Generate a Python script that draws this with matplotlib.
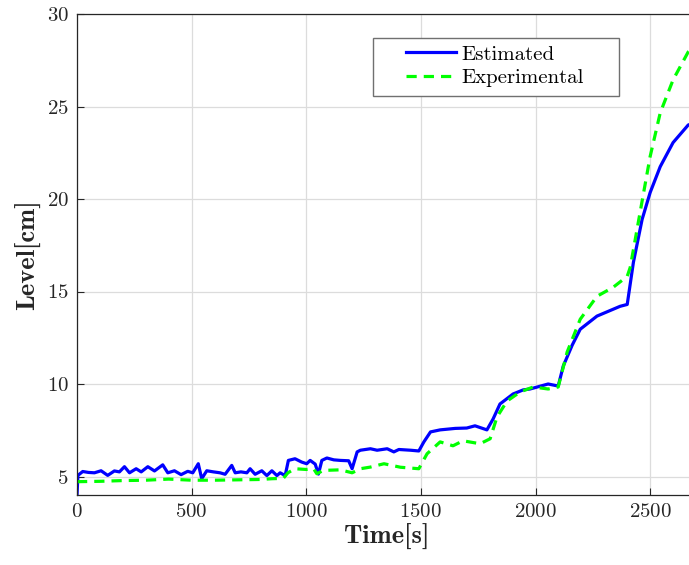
import numpy as np
from matplotlib import pyplot as plt
from matplotlib.patches import Rectangle

plt.rcParams['font.family'] = 'cmr10'
plt.rcParams['axes.formatter.use_mathtext'] = True

# estimated level (s, cm)
t_est = [0, 4, 25, 50, 76, 105, 134, 163, 185, 207, 229, 258, 280, 309, 338, 374,
         396, 425, 454, 483, 505, 529, 544, 566, 595, 624, 646, 675, 690, 715, 741,
         755, 777, 806, 828, 850, 872, 886, 908, 922, 951, 980, 1002, 1017, 1039,
         1053, 1068, 1090, 1120, 1149, 1185, 1200, 1222, 1236, 1280, 1309, 1353,
         1382, 1404, 1455, 1491, 1513, 1542, 1584, 1650, 1700, 1736, 1788, 1815,
         1845, 1902, 1946, 1976, 2055, 2099, 2121, 2160, 2195, 2268, 2369, 2400,
         2427, 2465, 2500, 2544, 2600, 2666, 2700]
lvl_est = [4.0, 5.06, 5.27, 5.22, 5.2, 5.31, 5.06, 5.3, 5.25, 5.53, 5.2, 5.42, 5.25,
           5.53, 5.3, 5.63, 5.2, 5.31, 5.1, 5.28, 5.2, 5.69, 4.88, 5.31, 5.25, 5.2,
           5.12, 5.6, 5.2, 5.25, 5.2, 5.42, 5.12, 5.31, 5.05, 5.31, 5.05, 5.2, 5.05,
           5.87, 5.96, 5.78, 5.69, 5.87, 5.67, 5.13, 5.87, 6.0, 5.9, 5.87, 5.85,
           5.42, 6.33, 6.42, 6.5, 6.42, 6.5, 6.33, 6.46, 6.42, 6.38, 6.87, 7.41,
           7.52, 7.6, 7.62, 7.74, 7.52, 8.11, 8.92, 9.46, 9.68, 9.73, 10.0, 9.89,
           10.97, 12.1, 12.96, 13.67, 14.2, 14.3, 16.58, 18.9, 20.35, 21.75, 23.05,
           24.0, 24.15]

# experimental level (s, cm)
t_exp = [0, 100, 200, 300, 400, 500, 600, 700, 800, 850, 900, 920, 950, 1000, 1032,
         1046, 1075, 1149, 1200, 1236, 1280, 1339, 1411, 1491, 1527, 1584, 1640,
         1684, 1758, 1802, 1832, 1876, 1933, 1990, 2055, 2099, 2138, 2195, 2268,
         2339, 2400, 2413, 2456, 2500, 2544, 2600, 2666, 2700]
lvl_exp = [4.72, 4.74, 4.78, 4.8, 4.86, 4.8, 4.8, 4.82, 4.84, 4.88, 4.9, 5.2, 5.42,
           5.38, 5.42, 5.15, 5.33, 5.36, 5.2, 5.42, 5.51, 5.69, 5.5, 5.42, 6.23,
           6.87, 6.66, 6.93, 6.77, 7.04, 8.22, 9.08, 9.57, 9.84, 9.73, 9.84, 11.73,
           13.5, 14.74, 15.23, 15.82, 16.3, 19.27, 22.3, 24.66, 26.44, 27.95, 28.3]

fig = plt.figure(figsize=(6.89, 5.65), dpi=100)
ax = fig.add_axes([77 / 689, 70 / 565, 619 / 689, 481 / 565])

ax.plot(t_est, lvl_est, color='#0000ff', lw=2.3, label='Estimated')
ax.plot(t_exp, lvl_exp, color='#00ff00', lw=2.3, ls=(0, (3.2, 2.2)),
        label='Experimental')

ax.set_xlim(0, 2700)
ax.set_ylim(4, 30)
ax.set_xticks(np.arange(0, 2501, 500))
ax.set_yticks(np.arange(5, 31, 5))
ax.grid(True, color='#dcdcdc', lw=0.9)
ax.set_axisbelow(True)
ax.tick_params(direction='in', length=5, width=0.8, labelsize=15, colors='#262626',
               pad=6)
for s in ax.spines.values():
    s.set_color('#262626')
    s.set_linewidth(0.9)

ax.set_xlabel('Time[s]', family='cmb10', fontsize=19, color='#262626', labelpad=2)
ax.set_ylabel('Level[cm]', family='cmb10', fontsize=19, color='#262626', labelpad=4)

# wide legend box with the entries set inside it
box = Rectangle((373 / 689, 1 - 96 / 565), 246 / 689, 58 / 565,
                transform=fig.transFigure, facecolor='white', edgecolor='#707070',
                lw=1.0, clip_on=False, zorder=4)
ax.add_patch(box)
leg = ax.legend(loc='center left', bbox_to_anchor=(406 / 689, 1 - 66 / 565),
                bbox_transform=fig.transFigure, frameon=False, fontsize=15,
                handlelength=2.4, borderpad=0, labelspacing=0.22,
                handletextpad=0.25, borderaxespad=0)
leg.set_zorder(5)

fig.savefig('out.png', dpi=100)
